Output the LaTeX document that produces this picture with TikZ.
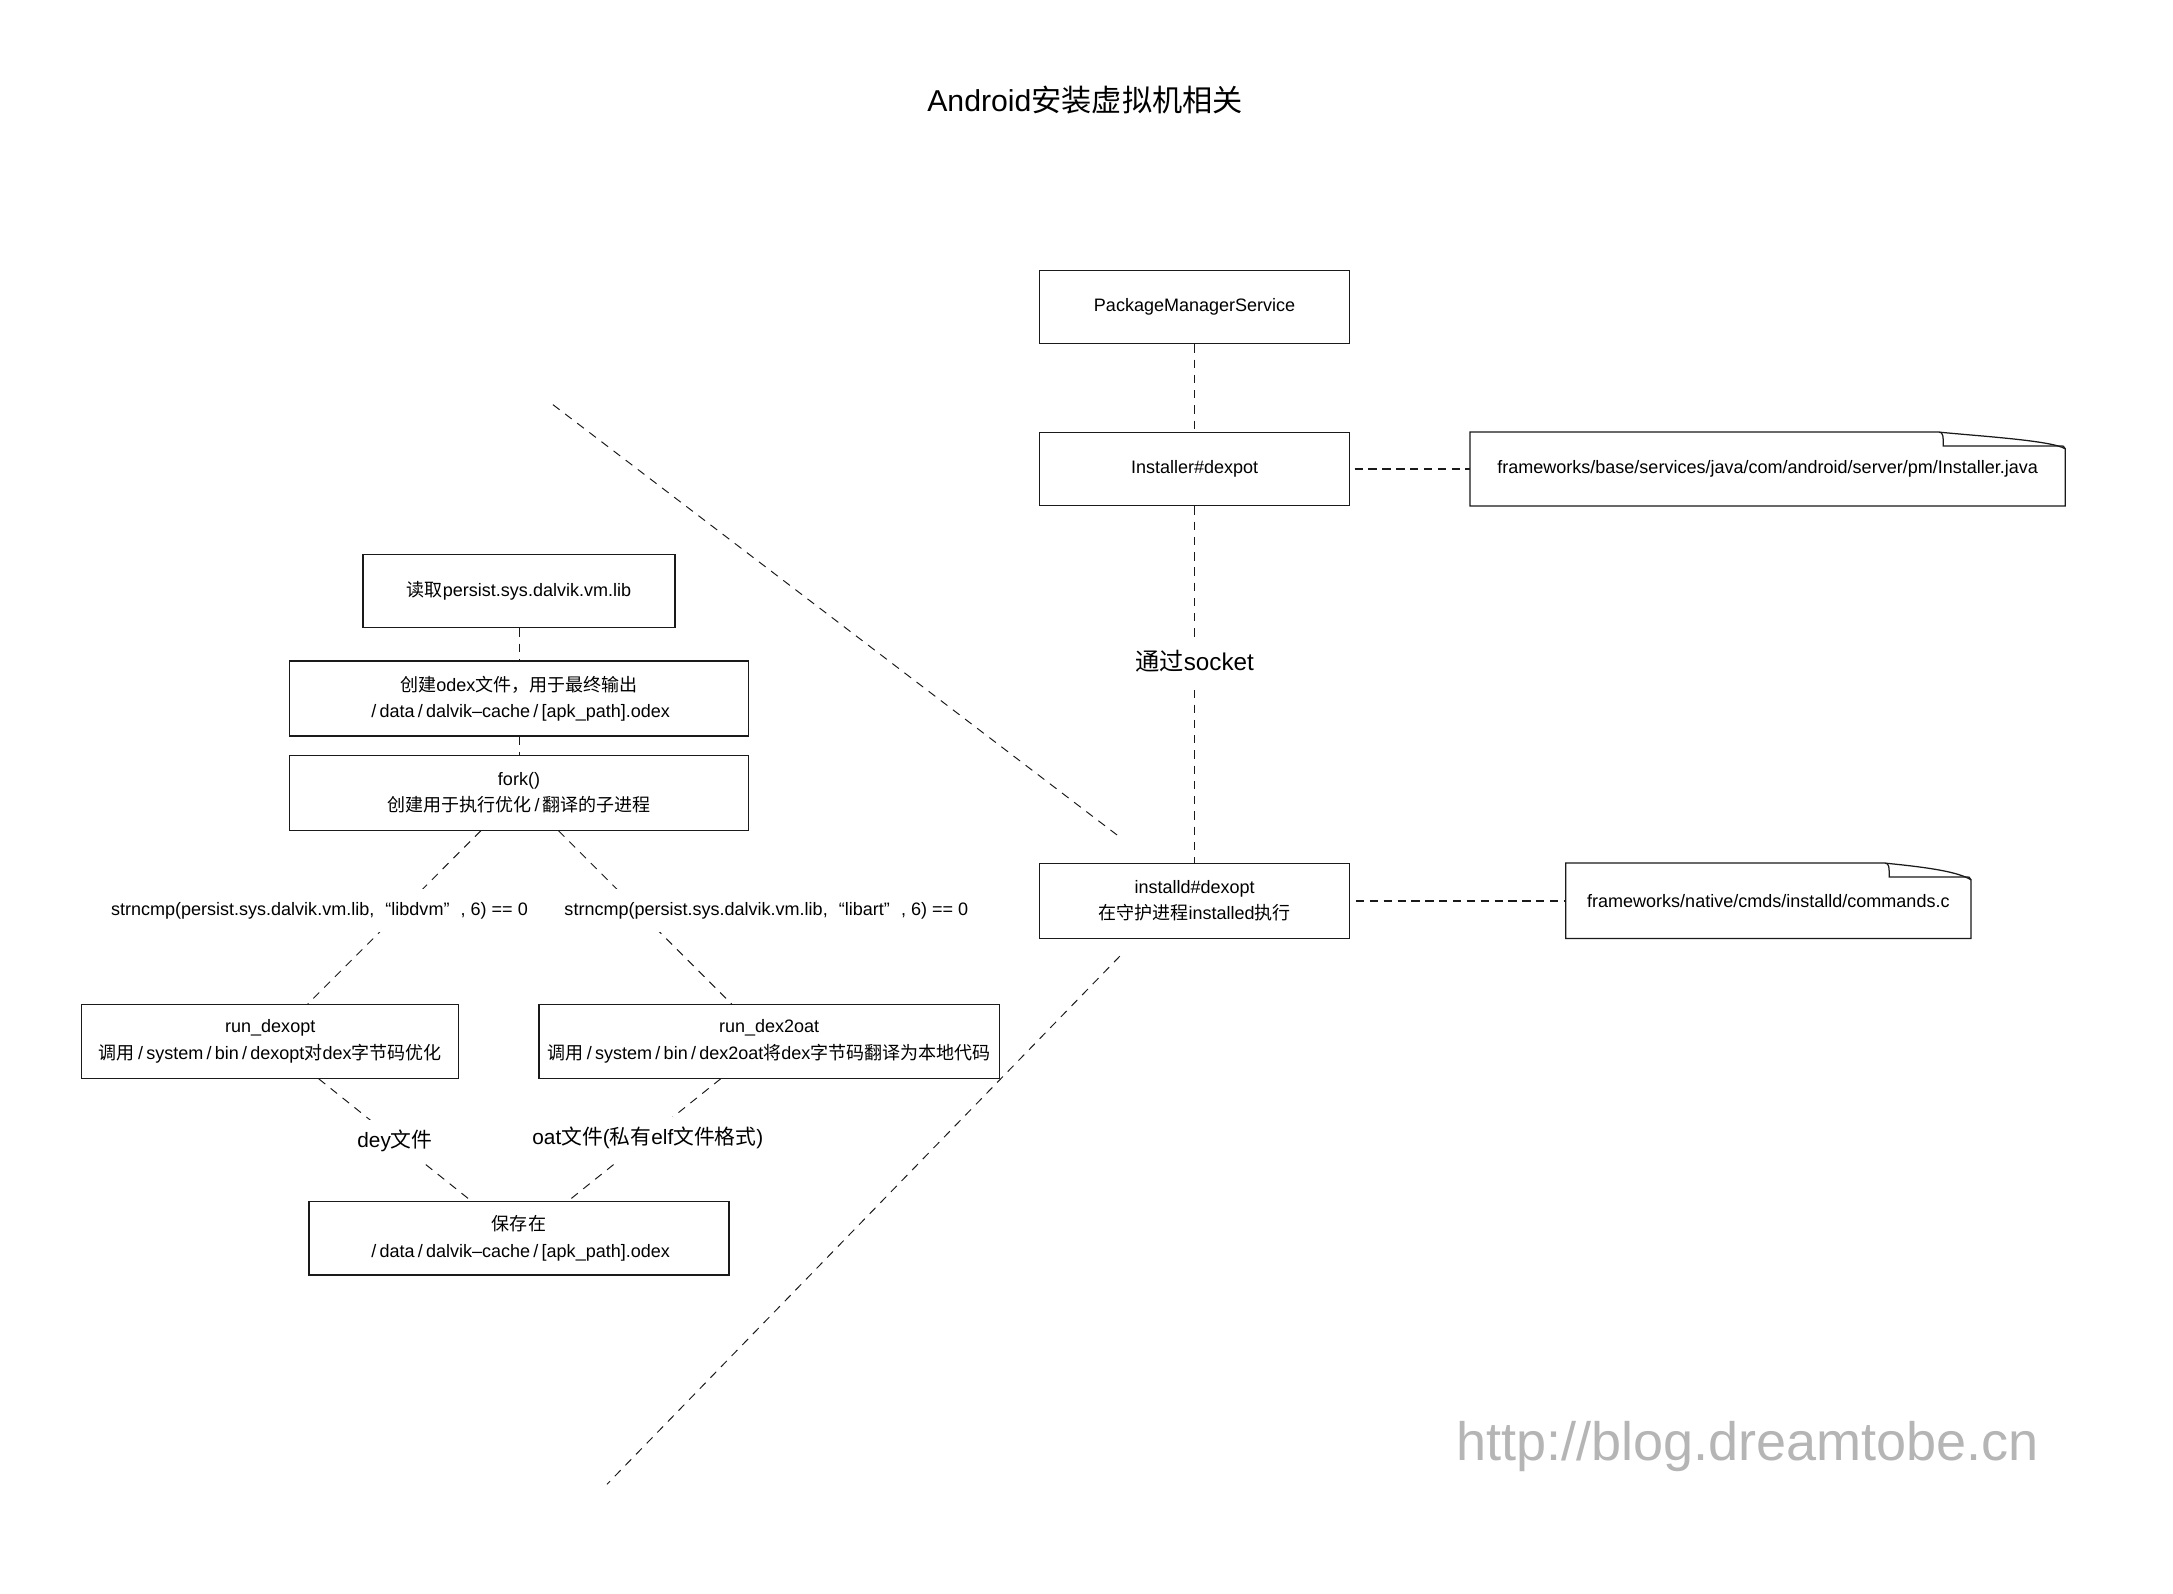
\documentclass[tikz,border=0pt]{standalone}
\usepackage{fontspec}
\setmainfont{Liberation Sans}
\newfontfamily\zhfont{Noto Sans CJK SC}
\newcommand{\zhs}[1]{{\zhfont #1}}
\newcommand{\wsl}{\kern0.18em/\kern0.18em}
\newcommand{\wqopen}{\kern0.62em“}
\newcommand{\wqclose}{”\kern0.62em}
\usetikzlibrary{calc}
\definecolor{wmgray}{HTML}{B5B5B5}
\definecolor{ink}{HTML}{1A1A1A}
\newcommand{\drawnote}[2]{%
  \draw[boxline] (#1.north west) -- ($(#1.north east)+(-#2,0)$)
    .. controls ($(#1.north east)+(-#2+30,3)$) and ($(#1.north east)+(-10,6)$) .. ($(#1.north east)+(0,12)$)
    -- (#1.south east) -- (#1.south west) -- cycle;
  \draw[boxline] ($(#1.north east)+(-#2,0)$) .. controls ($(#1.north east)+(-#2+3,0)$) and ($(#1.north east)+(-#2+3,3)$) .. ($(#1.north east)+(-#2+3,10)$)
    -- ($(#1.north east)+(-4,10)$) .. controls ($(#1.north east)+(-1,10)$) .. ($(#1.north east)+(0,12)$);
}
\begin{document}
\begin{tikzpicture}[x=1pt,y=-1pt,
  boxline/.style={draw=ink, line width=0.9pt},
  box/.style={boxline, inner sep=0pt, align=center, font=\fontsize{13}{19}\selectfont},
  notebox/.style={inner sep=0pt, align=center, font=\fontsize{13}{19}\selectfont},
  conn/.style={draw=ink, line width=0.7pt, dash pattern=on 6pt off 5pt},
  hconn/.style={draw=ink, line width=1.1pt, dash pattern=on 6pt off 4pt},
  lbl/.style={fill=white, inner xsep=1pt, inner ysep=9pt, text height=10pt, text depth=3pt, font=\fontsize{13}{16}\selectfont},
  biglbl/.style={fill=white, inner xsep=1pt, inner ysep=8.5pt, text height=11.5pt, text depth=3.5pt, font=\fontsize{15}{18}\selectfont}
]
\useasboundingbox (0,0) rectangle (1568,1149.5);
\fill[white] (0,0) rectangle (1568,1149.5);

% title
\node[font=\fontsize{21.8}{26}\selectfont] (title) at (783,72) {Android\zhs{安装虚拟机相关}};

% right column
\node[box, minimum width=224, minimum height=53] (pms) at (862,221.5) {PackageManagerService};
\node[box, minimum width=224, minimum height=53] (inst) at (862,338.5) {Installer\#dexpot};
\node[box, minimum width=224, minimum height=54] (installd) at (862,650) {installd\#dexopt\\\zhs{在守护进程}installed\zhs{执行}};
\node[notebox, minimum width=429, minimum height=53] (note1) at (1275.5,338.5) {frameworks/base/services/java/com/android/server/pm/Installer.java};
\node[notebox, minimum width=292, minimum height=54] (note2) at (1276,650) {frameworks/native/cmds/installd/commands.c};
\drawnote{note1}{91}
\drawnote{note2}{62}

\draw[conn] (pms) -- (inst);
\draw[hconn] ([xshift=3pt]inst.east) -- (note1.west);
\draw[conn] (inst) -- node[pos=0.442, fill=white, inner xsep=1pt, inner ysep=10pt, text height=13pt, text depth=4pt, font=\fontsize{17.5}{20}\selectfont] (sock) {\zhs{通过}socket} (installd);
\draw[hconn] ([xshift=4pt]installd.east) -- (note2.west);

% separator lines
\coordinate (s1) at (399,292);
\coordinate (s2) at (808,604);
\coordinate (s3) at (808,690);
\coordinate (s4) at (438,1071);
\draw[conn] (s1) -- (s2);
\draw[conn] (s3) -- (s4);

% left column
\node[box, minimum width=225, minimum height=53] (read) at (374.5,426.5) {\zhs{读取}persist.sys.dalvik.vm.lib};
\node[box, minimum width=331, minimum height=54] (odex) at (374.5,504) {\zhs{创建}odex\zhs{文件，用于最终输出}\\\wsl data\wsl dalvik–cache\wsl[apk\_path].odex};
\node[box, minimum width=331, minimum height=54] (fork) at (374.5,572) {fork()\\\zhs{创建用于执行优化}\wsl\zhs{翻译的子进程}};
\node[box, minimum width=272, minimum height=53] (rdexopt) at (195,751.5) {run\_dexopt\\\zhs{调用}\wsl system\wsl bin\wsl dexopt\zhs{对}dex\zhs{字节码优化}};
\node[box, minimum width=332, minimum height=53] (rdex2oat) at (555,751.5) {run\_dex2oat\\\zhs{调用}\wsl system\wsl bin\wsl dex2oat\zhs{将}dex\zhs{字节码翻译为本地代码}};
\node[box, minimum width=303, minimum height=53] (save) at (374.5,893.5) {\zhs{保存在}\\\wsl data\wsl dalvik–cache\wsl[apk\_path].odex};

\draw[conn] (read) -- (odex);
\draw[conn] (odex) -- (fork);
\draw[conn] ([xshift=-27.5pt]fork.south) -- ([xshift=27pt]rdexopt.north);
\draw[conn] ([xshift=28.5pt]fork.south) -- ([xshift=-27pt]rdex2oat.north);
\draw[conn] ([xshift=35pt]rdexopt.south) -- ([xshift=-34.5pt]save.north);
\draw[conn] ([xshift=-35pt]rdex2oat.south) -- ([xshift=35.5pt]save.north);

\node[lbl] (c1) at (230.5,657) {strncmp(persist.sys.dalvik.vm.lib,\wqopen libdvm\wqclose, 6) == 0};
\node[lbl] (c2) at (553,657) {strncmp(persist.sys.dalvik.vm.lib,\wqopen libart\wqclose, 6) == 0};
\node[biglbl] (f1) at (285,824) {dey\zhs{文件}};
\node[biglbl] (f2) at (467.5,822) {oat\zhs{文件}(\zhs{私有}elf\zhs{文件格式})};

% watermark
\node[text=wmgray, font=\fontsize{39}{45}\selectfont] (wm) at (1261,1044) {http://blog.dreamtobe.cn};
\end{tikzpicture}
\end{document}
